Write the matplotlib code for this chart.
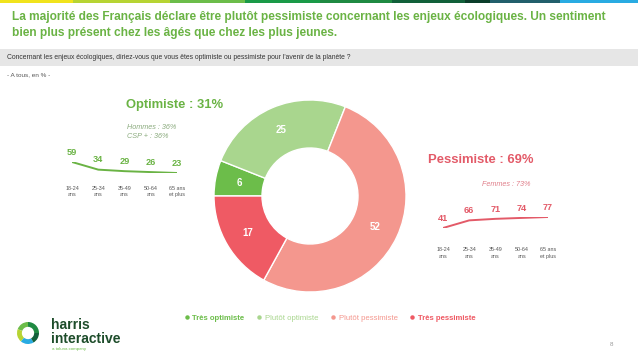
import matplotlib
matplotlib.use("Agg")
import matplotlib.pyplot as plt
from matplotlib.patches import Rectangle, Wedge
from matplotlib.lines import Line2D

plt.rcParams['font.family'] = ['Liberation Sans', 'DejaVu Sans']

# data
segments = ["Très optimiste", "Plutôt optimiste", "Plutôt pessimiste", "Très pessimiste"]
values = [6, 25, 52, 17]
colors = ["#6cbd4a", "#a9d68e", "#f4978e", "#ef5a64"]

ages = ["18-24\nans", "25-34\nans", "35-49\nans", "50-64\nans", "65 ans\net plus"]
optimistes = [59, 34, 29, 26, 23]
pessimistes = [41, 66, 71, 74, 77]

W, H = 638, 359
fig = plt.figure(figsize=(W / 100, H / 100), dpi=100)


def fx(x):
    return x / W


def fy(y):
    return 1 - y / H


green = "#6ab344"
red = "#e35a68"
grey = "#555555"

# top colour strip
strip = [(0, 73, "#f1e31c"), (73, 170, "#b7d433"), (170, 245, "#6cbd4a"),
         (245, 320, "#1a9a48"), (320, 392, "#1f8a42"), (392, 465, "#11603a"),
         (465, 490, "#0b3d2a"), (490, 560, "#225f6c"), (560, 638, "#29abe2")]
for x0, x1, c in strip:
    fig.patches.append(Rectangle((fx(x0), fy(3)), (x1 - x0) / W, 3 / H,
                                 transform=fig.transFigure, color=c, lw=0))

# title
fig.text(fx(12), fy(17), "La majorité des Français déclare être plutôt pessimiste concernant les enjeux écologiques. Un sentiment",
         color=green, fontsize=8.6, fontweight='bold', va='center')
fig.text(fx(12), fy(33), "bien plus présent chez les âgés que chez les plus jeunes.",
         color=green, fontsize=8.6, fontweight='bold', va='center')

# question band
fig.patches.append(Rectangle((0, fy(66)), 1, 17 / H, transform=fig.transFigure,
                             color="#e6e6e6", lw=0))
fig.text(fx(7), fy(57.5), "Concernant les enjeux écologiques, diriez-vous que vous êtes optimiste ou pessimiste pour l'avenir de la planète ?",
         color="#333333", fontsize=4.85, va='center')
fig.text(fx(7), fy(75), "- A tous, en % -", color=grey, fontsize=4.6, va='center')

# donut
cx, cy, r = 310, 196, 96
ax = fig.add_axes([fx(cx - r), fy(cy + r), 2 * r / W, 2 * r / H])
total = sum(values)
wedges, texts, autotexts = ax.pie(
    values, colors=colors, startangle=180, counterclock=False,
    wedgeprops=dict(width=0.5, edgecolor='white', linewidth=1),
    autopct=lambda p: "%d" % round(p * total / 100), pctdistance=0.75,
    textprops=dict(color='white', fontsize=7, fontweight='bold'))
ax.set_xlim(-1, 1)
ax.set_ylim(-1, 1)
ax.set_aspect('equal')
ax.axis('off')

# optimistes
fig.text(fx(126), fy(105), "Optimiste : 31%", color=green, fontsize=9.4, fontweight='bold', va='center')
fig.text(fx(127), fy(128), "Hommes : 36%", color="#8bab7e", fontsize=5.2, style='italic', va='center')
fig.text(fx(127), fy(137), "CSP + : 36%", color="#8bab7e", fontsize=5.2, style='italic', va='center')

# pessimistes
fig.text(fx(428), fy(160), "Pessimiste : 69%", color=red, fontsize=9.4, fontweight='bold', va='center')
fig.text(fx(482), fy(184), "Femmes : 73%", color="#e07f8a", fontsize=5.2, style='italic', va='center')


def age_line(x0, x1, ytop, ybot, vals, c, pad):
    a = fig.add_axes([fx(x0), fy(ybot), (x1 - x0) / W, (ybot - ytop) / H])
    xs = range(len(vals))
    a.plot(xs, vals, color=c, lw=1.4, solid_capstyle='round')
    for x, v in zip(xs, vals):
        a.annotate(str(v), (x, v), xytext=(0, 7), textcoords='offset points',
                   ha='center', va='center', color=c, fontsize=6.6, fontweight='bold')
    a.set_xlim(0, len(vals) - 1)
    a.set_ylim(min(vals), max(vals))
    a.set_xticks(list(xs))
    a.set_xticklabels(ages, fontsize=3.9, color=grey, linespacing=1.4)
    a.tick_params(axis='x', length=0, pad=pad)
    a.set_yticks([])
    for s in a.spines.values():
        s.set_visible(False)
    a.patch.set_alpha(0)
    return a


age_line(72, 177, 162, 173, optimistes, green, 9)
age_line(443, 548, 217, 228, pessimistes, red, 14)

# legend
handles = [Line2D([], [], marker='o', ls='', ms=2.2, color=c) for c in colors]
leg = fig.legend(handles, segments, loc='center', bbox_to_anchor=(fx(330), fy(318)),
                 ncol=4, frameon=False, fontsize=5.6, handlelength=0.6, handletextpad=0.4,
                 columnspacing=1.6, labelcolor=colors)
for t, s in zip(leg.get_texts(), segments):
    if s.startswith("Très"):
        t.set_fontweight('bold')

# logo
lx, ly = 28, 333
ring = [(0, 90, "#1f8a42"), (90, 160, "#6cbd4a"), (160, 230, "#b7d433"),
        (230, 300, "#29abe2"), (300, 360, "#11603a")]
lax = fig.add_axes([fx(lx - 11), fy(ly + 11), 22 / W, 22 / H])
lax.axis('off')
for t0, t1, c in ring:
    lax.add_patch(Wedge((0.5, 0.5), 0.5, t0, t1, width=0.22, color=c, lw=0))
lax.set_xlim(0, 1)
lax.set_ylim(0, 1)
lax.set_aspect('equal')
fig.text(fx(51), fy(325), "harris", color="#1e4d2b", fontsize=10, fontweight='bold', va='center')
fig.text(fx(51), fy(339), "interactive", color="#1e4d2b", fontsize=10, fontweight='bold', va='center')
fig.text(fx(52), fy(349), "a toluna company", color="#6cbd4a", fontsize=3.2, va='center')

fig.text(fx(610), fy(345), "8", color="#999999", fontsize=4.5, va='center')

fig.savefig("out.png", dpi=100)
